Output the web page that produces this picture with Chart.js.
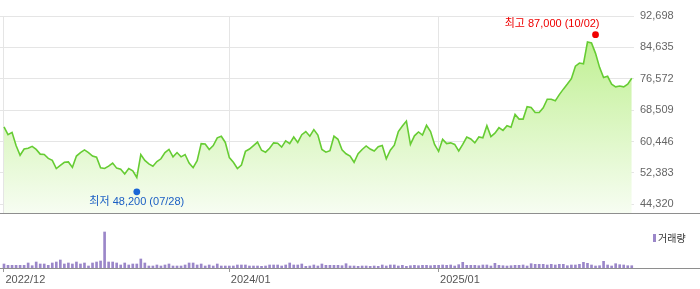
<!DOCTYPE html>
<html><head><meta charset="utf-8">
<script src="https://cdn.jsdelivr.net/npm/chart.js@4.4.1/dist/chart.umd.min.js"></script>
<style>
html,body{margin:0;padding:0;background:#fff;}
#wrap{position:relative;width:700px;height:289px;overflow:hidden;background:#fff;}
#pc{position:absolute;left:0;top:0;width:700px;height:226px;}
#vc{position:absolute;left:0;top:226px;width:700px;height:63px;}
</style></head><body>
<div id="wrap"><div id="pc"><canvas id="price"></canvas></div><div id="vc"><canvas id="vol"></canvas></div></div>
<script>
// ---- DATA ----
// weekly categories (week-ending dates)
const weekStart = '2022-12-02';
const weekCount = 157;
const weeks = [];
for (let i = 0; i < weekCount; i++) {
  weeks.push(new Date(Date.parse(weekStart) + i * 7 * 864e5).toISOString().slice(0, 10));
}
// weekly closing prices (KRW)
const prices = [
  64200,62200,62800,59400,56900,58500,58700,59200,58400,57200,
  57100,56100,55600,53500,54300,55100,55200,53800,56700,57600,
  58300,57600,56700,56400,53700,53500,54100,54900,53600,53300,
  52100,53500,52900,51200,57100,55600,54700,54100,55300,56000,
  57600,58400,56500,57600,56500,57100,54900,53700,55500,59900,
  59800,58400,59400,61400,61800,60200,56300,55100,53500,54400,
  57900,58500,59400,60300,58200,57700,58700,60100,60000,59000,
  60600,59900,61600,60200,62200,63000,61800,63500,62100,58400,
  57700,58100,61800,61000,58300,57300,56700,55100,57300,58400,
  59300,58500,58000,59100,59400,56000,58200,59500,63000,64400,
  65700,59700,61900,62900,62100,64600,63000,59700,57900,61000,
  59900,60100,59700,58000,59700,61600,61100,60100,61600,61400,
  64500,61700,62600,64000,63300,64500,64100,67400,66200,66200,
  69400,69200,67900,67900,69100,71300,71300,70900,72500,73900,
  75200,76600,79800,80600,80400,86000,85800,83100,79500,76900,
  77200,75200,74500,74700,74500,75200,76700
];
// weekly trading volume (thousand shares)
const volumes = [
  400,270,270,270,270,270,500,230,600,400,
  400,270,500,600,800,400,500,400,600,400,
  500,200,500,600,700,3600,600,600,500,300,
  500,300,400,400,900,500,200,200,300,200,
  300,400,200,200,200,300,500,500,300,400,
  200,300,200,400,200,200,200,200,300,300,
  300,200,200,200,170,200,300,300,300,200,
  300,500,300,300,400,170,200,300,200,400,
  270,270,270,270,230,430,200,200,170,200,
  200,170,200,170,300,200,300,300,200,270,
  170,230,270,230,270,270,230,270,270,300,
  270,300,200,330,570,270,270,270,230,300,
  300,200,470,270,230,200,230,270,270,300,
  200,430,370,370,370,300,370,300,370,370,
  230,300,300,370,570,470,300,200,230,670,
  300,200,430,330,300,230,230
];
// y-axis tick values of the price panel
const priceTicks = [44320, 52383, 60446, 68509, 76572, 84635, 92698];
// x-axis ticks: week index and label
const tickWeeks = [0, 56, 108];
const tickLabels = ['2022/12', '2024/01', '2025/01'];
// high / low markers
const markerWeeks = [147, 33];
const markerValues = [87000, 48200];
const markerTexts = ['최고 87,000 (10/02)', '최저 48,200 (07/28)'];
const legendLabel = '거래량';

// ---- CHARTS ----
const X_MIN = -0.994, X_MAX = 156.56;
const FONT = '"Liberation Sans", Arial, "Noto Sans CJK KR", sans-serif';
const KFONT = '"Liberation Sans", Arial, "Noto Sans CJK KR", sans-serif';

const markerPlugin = {
  id: 'markers',
  afterDatasetsDraw(chart) {
    const { ctx, chartArea, scales: { x, y } } = chart;
    ctx.save();
    ctx.fillStyle = '#8e8e8e';
    ctx.fillRect(0, Math.round(chartArea.bottom), chart.width, 1);
    ctx.font = '11px ' + KFONT;
    ctx.textBaseline = 'middle';
    markerWeeks.forEach((w, i) => {
      const isHigh = i === 0;
      const px = x.getPixelForValue(w);
      const py = y.getPixelForValue(markerValues[i]) + (isHigh ? -3.5 : 2.7);
      ctx.fillStyle = isHigh ? '#f00000' : '#1a66d6';
      ctx.beginPath();
      ctx.arc(px, py, 3.4, 0, Math.PI * 2);
      ctx.fill();
      ctx.fillStyle = isHigh ? '#ee0000' : '#1c5fc4';
      if (isHigh) {
        ctx.textAlign = 'right';
        ctx.fillText(markerTexts[i], px + 4, py - 11);
      } else {
        ctx.textAlign = 'center';
        ctx.fillText(markerTexts[i], px, py + 10);
      }
    });
    ctx.restore();
  }
};

new Chart(document.getElementById('price'), {
  type: 'line',
  data: {
    labels: weeks,
    datasets: [{
      data: prices.map((v, i) => ({ x: i, y: v })),
      borderColor: '#66cc33',
      borderWidth: 1.6,
      pointRadius: 0,
      tension: 0,
      fill: 'start',
      backgroundColor: (c) => {
        const { ctx, chartArea } = c.chart;
        if (!chartArea) return 'rgba(190,240,140,0.5)';
        const g = ctx.createLinearGradient(0, chartArea.top, 0, chartArea.bottom);
        g.addColorStop(0, '#b8ee85');
        g.addColorStop(1, '#f7fdf2');
        return g;
      }
    }]
  },
  options: {
    responsive: true, maintainAspectRatio: false, animation: false,
    layout: { padding: { top: 16, bottom: 1, left: 0, right: 0 } },
    plugins: { legend: { display: false }, tooltip: { enabled: false } },
    scales: {
      x: {
        type: 'linear', min: X_MIN, max: X_MAX,
        afterBuildTicks: s => { s.ticks = tickWeeks.map(v => ({ value: v })); },
        afterFit: s => { s.height = 0; },
        ticks: { display: false },
        grid: { color: '#e5e5e5', drawTicks: false },
        border: { display: false }
      },
      y: {
        position: 'right', min: 41966, max: 92698,
        afterBuildTicks: s => { s.ticks = priceTicks.map(v => ({ value: v })); },
        afterFit: s => { s.width = 66; },
        grid: { color: '#e5e5e5', drawTicks: false },
        border: { display: false },
        ticks: {
          padding: 6, color: '#666',
          font: { family: FONT, size: 11 },
          callback: v => Number(v).toLocaleString('en-US')
        }
      }
    }
  },
  plugins: [markerPlugin]
});

const volPlugin = {
  id: 'volextra',
  afterDraw(chart) {
    const { ctx, chartArea } = chart;
    ctx.save();
    ctx.fillStyle = '#8e8e8e';
    ctx.fillRect(0, Math.round(chartArea.bottom), chart.width, 1);
    ctx.fillStyle = '#9b87c9';
    ctx.fillRect(653, 8, 3, 8);
    ctx.fillStyle = '#333';
    ctx.font = '10px "Noto Sans CJK KR", sans-serif';
    ctx.textBaseline = 'middle';
    ctx.textAlign = 'left';
    ctx.fillText(legendLabel, 658, 12);
    ctx.restore();
  }
};

new Chart(document.getElementById('vol'), {
  type: 'bar',
  data: {
    labels: weeks,
    datasets: [{
      data: volumes.map((v, i) => ({ x: i, y: v })),
      backgroundColor: '#9b87c9',
      barThickness: 2
    }]
  },
  options: {
    responsive: true, maintainAspectRatio: false, animation: false,
    layout: { padding: { top: 4, right: 66, left: 0, bottom: 0 } },
    plugins: { legend: { display: false }, tooltip: { enabled: false } },
    scales: {
      x: {
        type: 'linear', min: X_MIN, max: X_MAX, offset: false,
        afterBuildTicks: s => { s.ticks = tickWeeks.map(v => ({ value: v })); },
        afterFit: s => { s.height = 21; },
        grid: { drawOnChartArea: false, drawTicks: true, tickLength: 4, color: '#999', offset: false },
        border: { display: false },
        ticks: {
          align: 'start', padding: 1, labelOffset: 1.5, maxRotation: 0, autoSkip: false,
          color: '#555', font: { family: FONT, size: 11 },
          callback: v => tickLabels[tickWeeks.indexOf(v)]
        }
      },
      y: { display: false, min: 0, max: 3800 }
    }
  },
  plugins: [volPlugin]
});
</script>
</body></html>
